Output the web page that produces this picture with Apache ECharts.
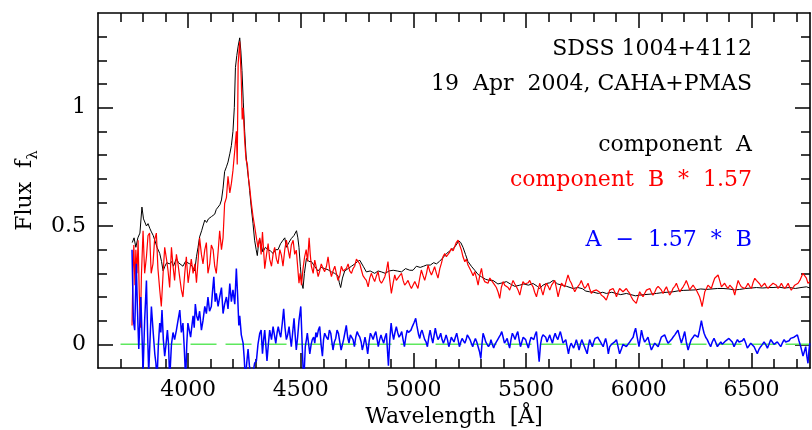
<!DOCTYPE html>
<html>
<head>
<meta charset="utf-8">
<script src="https://cdn.jsdelivr.net/npm/echarts@6/dist/echarts.min.js"></script>
<style>
  html, body { margin: 0; padding: 0; background: #fff; }
  #chart { width: 812px; height: 430px; }
</style>
</head>
<body>
<div id="chart"></div>
<script>
// component A  [wavelength, flux]
var compA = [
  [3752,0.43],[3760,0.45],[3768,0.41],[3777,0.45],[3786,0.47],[3795,0.58],[3802,0.53],[3808,0.525],[3815,0.50],[3822,0.51],
  [3830,0.49],[3837,0.475],[3845,0.46],[3852,0.44],[3862,0.41],[3874,0.384],[3882,0.35],[3889,0.31],[3897,0.33],[3905,0.345],
  [3918,0.34],[3927,0.35],[3935,0.33],[3948,0.363],[3957,0.345],[3965,0.35],[3977,0.33],[3988,0.35],[3996,0.345],[4007,0.34],
  [4018,0.33],[4029,0.31],[4037,0.37],[4044,0.41],[4051,0.454],[4060,0.48],[4066,0.50],[4074,0.525],[4082,0.515],[4090,0.53],
  [4096,0.525],[4104,0.54],[4112,0.545],[4118,0.55],[4125,0.57],[4133,0.565],[4141,0.59],[4148,0.61],[4155,0.66],[4162,0.73],
  [4170,0.75],[4177,0.77],[4185,0.805],[4192,0.84],[4199,0.90],[4205,1.00],[4210,1.17],[4216,1.22],[4222,1.26],[4229,1.295],
  [4234,1.24],[4239,1.157],[4245,1.02],[4251,0.90],[4257,0.80],[4263,0.74],[4268,0.70],[4273,0.65],[4280,0.58],[4288,0.51],
  [4295,0.44],[4302,0.40],[4307,0.375],[4312,0.42],[4317,0.447],[4324,0.42],[4332,0.39],[4343,0.41],[4354,0.40],[4365,0.395],
  [4377,0.384],[4388,0.40],[4399,0.40],[4410,0.425],[4421,0.44],[4429,0.45],[4436,0.41],[4447,0.43],[4458,0.447],[4470,0.46],
  [4481,0.48],[4487,0.45],[4492,0.41],[4498,0.33],[4504,0.26],[4510,0.236],[4516,0.30],[4525,0.363],[4536,0.35],[4547,0.35],
  [4561,0.33],[4576,0.31],[4591,0.325],[4606,0.32],[4621,0.315],[4636,0.306],[4650,0.30],[4665,0.29],[4671,0.26],[4677,0.24],
  [4685,0.28],[4695,0.31],[4710,0.32],[4725,0.33],[4740,0.34],[4752,0.35],[4762,0.355],[4769,0.363],[4777,0.33],[4791,0.306],
  [4808,0.31],[4828,0.30],[4843,0.31],[4858,0.306],[4875,0.30],[4892,0.31],[4910,0.313],[4928,0.31],[4947,0.306],[4965,0.32],
  [4984,0.313],[4998,0.313],[5013,0.33],[5030,0.325],[5045,0.33],[5058,0.335],[5075,0.335],[5090,0.345],[5102,0.34],[5115,0.35],
  [5130,0.365],[5147,0.384],[5162,0.395],[5177,0.405],[5190,0.42],[5201,0.437],[5210,0.43],[5220,0.41],[5231,0.38],[5242,0.35],
  [5257,0.33],[5272,0.313],[5287,0.295],[5302,0.285],[5320,0.275],[5337,0.27],[5353,0.27],[5375,0.255],[5395,0.26],[5413,0.265],
  [5430,0.255],[5450,0.245],[5472,0.25],[5490,0.255],[5510,0.25],[5531,0.257],[5550,0.245],[5560,0.236],[5575,0.25],[5590,0.257],
  [5605,0.26],[5620,0.27],[5640,0.255],[5660,0.25],[5680,0.245],[5708,0.236],[5730,0.24],[5750,0.235],[5765,0.225],[5782,0.222],
  [5800,0.22],[5820,0.215],[5840,0.22],[5856,0.215],[5880,0.22],[5900,0.215],[5920,0.21],[5945,0.215],[5965,0.21],[5985,0.205],
  [6004,0.208],[6025,0.21],[6050,0.212],[6078,0.215],[6100,0.218],[6125,0.22],[6152,0.222],[6175,0.226],[6200,0.228],[6226,0.229],
  [6250,0.23],[6275,0.234],[6300,0.232],[6325,0.234],[6350,0.236],[6374,0.236],[6400,0.234],[6425,0.23],[6448,0.232],[6475,0.236],
  [6500,0.238],[6522,0.24],[6550,0.238],[6575,0.24],[6596,0.24],[6620,0.242],[6645,0.238],[6670,0.24],[6695,0.236],[6720,0.24],
  [6744,0.243],[6760,0.238]
];

// component B * 1.57
var compB = [
  [3751,0.08],[3755,0.30],[3759,0.42],[3764,0.25],[3768,0.40],[3773,0.30],[3778,0.44],[3783,0.22],[3788,0.07],[3793,0.30],
  [3800,0.48],[3807,0.30],[3815,0.37],[3822,0.46],[3829,0.47],[3836,0.30],[3844,0.34],[3851,0.44],[3859,0.47],[3866,0.32],
  [3874,0.23],[3881,0.16],[3889,0.30],[3896,0.41],[3904,0.36],[3911,0.31],[3918,0.24],[3926,0.41],[3933,0.33],[3940,0.27],
  [3948,0.38],[3955,0.34],[3963,0.28],[3970,0.23],[3977,0.20],[3985,0.30],[3992,0.37],[4000,0.26],[4007,0.31],[4014,0.36],
  [4022,0.30],[4030,0.34],[4037,0.26],[4044,0.35],[4051,0.45],[4059,0.38],[4066,0.34],[4074,0.40],[4081,0.43],[4088,0.30],
  [4096,0.34],[4103,0.42],[4111,0.40],[4118,0.33],[4125,0.30],[4133,0.39],[4140,0.48],[4148,0.40],[4155,0.45],[4162,0.595],
  [4170,0.62],[4177,0.71],[4185,0.64],[4192,0.68],[4199,0.735],[4207,0.82],[4214,0.90],[4218,0.76],[4222,1.185],[4229,1.28],
  [4236,1.115],[4240,0.95],[4244,1.00],[4251,0.86],[4257,0.78],[4263,0.76],[4268,0.70],[4273,0.665],[4280,0.60],[4288,0.54],
  [4295,0.50],[4303,0.45],[4310,0.41],[4318,0.45],[4324,0.38],[4330,0.475],[4340,0.32],[4348,0.38],[4355,0.426],[4362,0.36],
  [4370,0.33],[4377,0.38],[4384,0.41],[4392,0.36],[4399,0.34],[4407,0.40],[4414,0.377],[4421,0.33],[4429,0.40],[4436,0.44],
  [4444,0.40],[4451,0.363],[4458,0.42],[4466,0.44],[4473,0.38],[4480,0.398],[4486,0.33],[4492,0.258],[4497,0.30],[4503,0.25],
  [4510,0.32],[4517,0.37],[4524,0.40],[4530,0.35],[4537,0.45],[4542,0.38],[4547,0.33],[4555,0.30],[4562,0.356],[4570,0.32],
  [4577,0.286],[4584,0.31],[4591,0.34],[4599,0.32],[4606,0.307],[4614,0.33],[4621,0.37],[4628,0.32],[4636,0.286],[4643,0.31],
  [4651,0.33],[4658,0.30],[4665,0.27],[4673,0.29],[4680,0.33],[4688,0.31],[4695,0.307],[4702,0.32],[4710,0.34],[4717,0.31],
  [4725,0.30],[4732,0.32],[4739,0.33],[4747,0.36],[4754,0.35],[4762,0.34],[4769,0.314],[4776,0.29],[4784,0.279],[4791,0.27],
  [4799,0.243],[4806,0.28],[4813,0.30],[4821,0.28],[4828,0.265],[4836,0.29],[4843,0.307],[4850,0.27],[4858,0.258],[4865,0.27],
  [4873,0.286],[4880,0.31],[4887,0.35],[4895,0.27],[4902,0.215],[4910,0.26],[4917,0.293],[4924,0.27],[4932,0.265],[4939,0.29],
  [4947,0.30],[4954,0.27],[4961,0.25],[4969,0.26],[4976,0.27],[4984,0.25],[4991,0.236],[4998,0.25],[5006,0.265],[5013,0.27],
  [5020,0.236],[5028,0.28],[5035,0.314],[5043,0.29],[5050,0.27],[5058,0.30],[5065,0.335],[5072,0.31],[5080,0.293],[5087,0.31],
  [5094,0.328],[5102,0.30],[5109,0.28],[5117,0.32],[5124,0.342],[5131,0.37],[5139,0.384],[5146,0.37],[5154,0.377],[5161,0.39],
  [5168,0.405],[5176,0.395],[5183,0.412],[5190,0.43],[5198,0.44],[5205,0.42],[5213,0.398],[5220,0.37],[5228,0.349],[5235,0.36],
  [5242,0.335],[5250,0.32],[5257,0.307],[5265,0.29],[5272,0.307],[5280,0.28],[5287,0.25],[5294,0.29],[5302,0.321],[5309,0.28],
  [5316,0.265],[5324,0.27],[5331,0.258],[5339,0.28],[5346,0.27],[5354,0.26],[5361,0.25],[5368,0.24],[5376,0.22],[5383,0.194],
  [5390,0.24],[5398,0.265],[5405,0.25],[5413,0.258],[5420,0.24],[5427,0.229],[5435,0.25],[5442,0.27],[5450,0.255],[5457,0.243],
  [5464,0.23],[5472,0.208],[5479,0.24],[5486,0.265],[5494,0.255],[5501,0.25],[5509,0.26],[5516,0.27],[5523,0.255],[5531,0.243],
  [5538,0.22],[5546,0.201],[5553,0.23],[5561,0.258],[5568,0.23],[5575,0.208],[5583,0.24],[5590,0.258],[5598,0.245],[5605,0.229],
  [5613,0.25],[5620,0.26],[5627,0.27],[5634,0.24],[5642,0.201],[5649,0.23],[5657,0.258],[5664,0.25],[5671,0.243],[5679,0.27],
  [5686,0.293],[5694,0.27],[5701,0.258],[5708,0.24],[5716,0.222],[5723,0.235],[5731,0.243],[5738,0.255],[5745,0.27],[5753,0.25],
  [5760,0.236],[5768,0.245],[5775,0.258],[5782,0.235],[5790,0.215],[5797,0.225],[5805,0.222],[5812,0.23],[5819,0.236],[5827,0.22],
  [5834,0.208],[5845,0.20],[5856,0.187],[5866,0.215],[5871,0.229],[5879,0.236],[5886,0.236],[5894,0.22],[5901,0.201],[5908,0.22],
  [5915,0.236],[5923,0.23],[5930,0.222],[5938,0.23],[5945,0.236],[5952,0.225],[5960,0.215],[5967,0.20],[5975,0.187],[5982,0.18],
  [5989,0.173],[5997,0.20],[6004,0.222],[6012,0.21],[6019,0.201],[6026,0.215],[6034,0.229],[6041,0.232],[6049,0.236],[6056,0.22],
  [6063,0.208],[6071,0.22],[6078,0.236],[6086,0.245],[6093,0.25],[6100,0.23],[6108,0.215],[6115,0.23],[6123,0.243],[6130,0.225],
  [6137,0.208],[6145,0.22],[6152,0.236],[6160,0.245],[6167,0.258],[6174,0.24],[6182,0.222],[6189,0.232],[6197,0.243],[6204,0.255],
  [6211,0.27],[6219,0.25],[6226,0.229],[6233,0.24],[6241,0.25],[6248,0.24],[6256,0.229],[6263,0.215],[6270,0.201],[6276,0.18],
  [6281,0.159],[6287,0.19],[6293,0.222],[6300,0.235],[6307,0.25],[6315,0.245],[6322,0.236],[6330,0.26],[6337,0.279],[6344,0.285],
  [6352,0.293],[6359,0.27],[6367,0.243],[6374,0.25],[6381,0.258],[6389,0.245],[6396,0.236],[6404,0.25],[6411,0.258],[6418,0.235],
  [6426,0.208],[6433,0.24],[6441,0.27],[6448,0.255],[6455,0.243],[6463,0.24],[6470,0.236],[6478,0.245],[6485,0.258],[6492,0.245],
  [6500,0.236],[6507,0.26],[6515,0.279],[6522,0.27],[6529,0.265],[6537,0.255],[6544,0.243],[6552,0.25],[6559,0.258],[6566,0.245],
  [6574,0.236],[6581,0.245],[6589,0.25],[6596,0.258],[6603,0.265],[6611,0.25],[6618,0.236],[6626,0.245],[6633,0.258],[6640,0.245],
  [6648,0.236],[6655,0.245],[6663,0.258],[6670,0.24],[6677,0.229],[6685,0.24],[6692,0.25],[6700,0.255],[6707,0.258],[6715,0.27],
  [6722,0.286],[6729,0.30],[6737,0.307],[6744,0.28],[6751,0.258],[6759,0.265]
];

// A - 1.57 * B
var diffAB = [
  [3751,0.40],[3757,0.10],[3763,0.06],[3770,0.34],[3775,0.15],[3781,-0.02],[3786,0.10],[3790,0.20],[3795,0.05],[3800,-0.12],
  [3807,0.10],[3815,0.27],[3820,0.05],[3825,-0.12],[3831,0.02],[3837,0.16],[3845,0.05],[3852,-0.04],[3857,-0.08],[3862,-0.15],
  [3868,0.0],[3874,0.09],[3879,0.05],[3884,0.145],[3890,0.02],[3896,-0.05],[3902,0.0],[3908,0.06],[3913,0.0],[3918,-0.15],
  [3926,0.0],[3933,0.05],[3940,0.02],[3948,0.06],[3955,0.10],[3963,0.145],[3970,0.05],[3977,0.09],[3983,-0.02],[3989,-0.15],
  [3994,0.0],[3999,0.09],[4005,0.06],[4011,0.03],[4017,0.08],[4022,0.12],[4027,0.07],[4032,0.17],[4038,0.12],[4044,0.10],
  [4051,0.14],[4059,0.06],[4066,0.10],[4074,0.16],[4081,0.13],[4088,0.20],[4095,0.14],[4103,0.16],[4108,0.22],[4114,0.285],
  [4120,0.18],[4125,0.215],[4133,0.16],[4140,0.20],[4148,0.24],[4155,0.13],[4162,0.17],[4170,0.20],[4177,0.15],[4185,0.257],
  [4192,0.18],[4199,0.23],[4207,0.17],[4214,0.32],[4220,0.20],[4225,0.08],[4229,0.12],[4236,0.04],[4244,0.005],[4249,-0.06],
  [4254,-0.15],[4260,-0.08],[4266,-0.02],[4272,-0.09],[4281,-0.15],[4288,-0.12],[4295,-0.08],[4303,-0.07],[4310,0.0],[4318,0.047],
  [4324,0.06],[4330,-0.04],[4335,0.02],[4340,0.06],[4350,-0.07],[4356,0.0],[4362,0.06],[4370,0.02],[4377,0.075],[4383,0.04],
  [4389,0.004],[4395,0.05],[4400,0.075],[4405,0.05],[4411,0.03],[4418,0.09],[4424,0.15],[4430,0.07],[4436,0.02],[4442,0.04],
  [4448,0.075],[4453,0.03],[4458,-0.01],[4464,0.05],[4470,0.11],[4475,0.04],[4480,-0.024],[4486,0.03],[4492,0.10],[4496,0.13],
  [4500,0.16],[4505,0.03],[4510,-0.10],[4515,-0.12],[4520,-0.01],[4525,0.02],[4529,0.047],[4535,0.0],[4540,-0.04],[4546,0.0],
  [4551,0.02],[4557,0.03],[4562,0.005],[4567,0.05],[4572,0.03],[4578,0.06],[4584,0.075],[4590,0.0],[4596,-0.05],[4601,0.02],
  [4606,0.047],[4614,0.03],[4621,0.02],[4627,0.06],[4633,0.047],[4638,0.01],[4643,-0.024],[4649,0.01],[4655,0.025],[4661,0.06],
  [4667,0.047],[4673,0.01],[4679,-0.024],[4685,0.0],[4690,0.02],[4696,0.05],[4702,0.08],[4708,0.03],[4714,0.005],[4720,0.04],
  [4726,0.047],[4732,0.02],[4738,-0.01],[4744,0.03],[4750,0.054],[4756,0.04],[4762,0.03],[4768,0.01],[4773,-0.024],[4779,0.0],
  [4785,0.03],[4791,0.0],[4797,-0.04],[4803,0.01],[4809,0.047],[4815,0.035],[4821,0.02],[4827,0.04],[4833,0.054],[4839,0.02],
  [4844,-0.01],[4850,0.02],[4856,0.04],[4862,0.02],[4868,0.005],[4874,0.03],[4880,0.047],[4885,-0.03],[4889,-0.09],[4895,0.02],
  [4901,0.09],[4906,0.05],[4912,0.02],[4918,0.05],[4924,0.075],[4930,0.05],[4936,0.03],[4942,0.04],[4948,0.054],[4954,0.02],
  [4960,-0.01],[4966,0.03],[4972,0.06],[4978,0.05],[4983,0.047],[4989,0.06],[4995,0.075],[5002,0.09],[5006,0.10],[5010,0.11],
  [5015,0.08],[5018,0.075],[5023,0.04],[5028,0.025],[5033,0.05],[5038,0.06],[5044,0.04],[5050,0.02],[5056,0.01],[5062,-0.01],
  [5068,0.03],[5074,0.06],[5080,0.03],[5086,0.005],[5092,0.04],[5097,0.068],[5103,0.04],[5109,0.02],[5115,0.03],[5121,0.047],
  [5127,0.02],[5133,0.005],[5139,0.02],[5145,0.04],[5151,0.02],[5157,-0.01],[5163,0.01],[5168,0.03],[5174,0.02],[5180,0.01],
  [5186,0.03],[5192,0.047],[5198,0.02],[5204,-0.01],[5210,0.01],[5216,0.025],[5222,0.015],[5228,0.005],[5234,0.02],[5239,0.04],
  [5245,0.03],[5251,0.02],[5257,0.005],[5263,-0.01],[5269,0.01],[5275,0.025],[5281,0.01],[5287,-0.01],[5293,-0.03],[5299,-0.06],
  [5304,0.0],[5309,0.047],[5315,0.03],[5321,0.01],[5327,0.0],[5333,-0.01],[5339,0.0],[5344,0.02],[5350,0.0],[5356,-0.016],
  [5362,0.0],[5368,0.01],[5374,0.02],[5380,0.03],[5386,0.04],[5392,0.054],[5398,0.03],[5404,0.005],[5410,0.015],[5416,0.025],
  [5422,0.0],[5427,-0.016],[5433,0.02],[5439,0.047],[5445,0.035],[5451,0.02],[5457,0.04],[5463,0.054],[5469,0.02],[5475,-0.01],
  [5481,0.01],[5487,0.03],[5492,0.025],[5498,0.02],[5504,0.0],[5510,-0.016],[5516,0.01],[5522,0.03],[5528,0.025],[5534,0.02],
  [5540,0.04],[5546,0.054],[5552,-0.01],[5558,-0.073],[5564,0.0],[5570,0.03],[5575,0.04],[5581,0.047],[5587,0.03],[5593,0.01],
  [5599,0.025],[5605,0.04],[5611,0.02],[5617,0.005],[5623,0.03],[5629,0.047],[5635,0.03],[5641,0.02],[5647,0.04],[5652,0.054],
  [5658,0.03],[5664,0.005],[5670,0.01],[5676,0.02],[5682,-0.01],[5688,-0.04],[5694,-0.01],[5700,0.005],[5706,0.0],[5711,-0.016],
  [5717,0.0],[5723,0.02],[5729,0.0],[5735,-0.024],[5741,0.0],[5747,0.02],[5753,0.005],[5759,-0.01],[5765,-0.025],[5771,-0.04],
  [5776,-0.01],[5782,0.02],[5788,0.005],[5794,-0.01],[5800,0.01],[5806,0.025],[5812,0.03],[5818,0.03],[5824,0.02],[5830,0.01],
  [5836,0.0],[5842,-0.01],[5848,0.01],[5853,0.025],[5859,0.0],[5865,-0.04],[5871,-0.01],[5879,0.0],[5886,0.005],[5893,0.01],
  [5901,0.02],[5908,-0.01],[5915,-0.04],[5923,-0.02],[5930,0.0],[5938,0.005],[5945,-0.01],[5952,0.0],[5960,0.01],[5967,0.02],
  [5975,0.03],[5980,0.05],[5986,0.068],[5993,0.03],[6001,-0.01],[6006,0.02],[6012,0.06],[6019,0.03],[6026,0.01],[6034,0.02],
  [6041,0.03],[6049,0.0],[6056,-0.024],[6063,-0.01],[6071,0.005],[6078,0.0],[6086,-0.01],[6093,0.01],[6100,0.03],[6108,0.035],
  [6115,0.04],[6123,0.02],[6130,0.005],[6137,0.01],[6145,0.02],[6152,0.03],[6160,0.04],[6167,0.05],[6174,0.06],[6182,0.03],
  [6189,0.005],[6197,0.03],[6204,0.054],[6211,0.01],[6219,-0.024],[6226,0.0],[6233,0.02],[6241,0.03],[6248,0.04],[6256,0.035],
  [6263,0.03],[6270,0.06],[6278,0.10],[6284,0.07],[6290,0.047],[6297,0.03],[6304,0.02],[6311,0.005],[6319,-0.01],[6326,0.01],
  [6334,0.025],[6341,0.01],[6349,-0.01],[6356,0.0],[6364,0.01],[6371,0.0],[6378,0.005],[6386,0.015],[6393,0.02],[6400,0.025],
  [6408,0.03],[6415,0.01],[6423,-0.01],[6430,0.005],[6438,0.02],[6445,0.01],[6452,0.005],[6460,0.015],[6467,0.025],[6475,0.005],
  [6482,-0.016],[6490,-0.005],[6497,0.005],[6504,0.0],[6512,-0.01],[6519,-0.025],[6526,-0.04],[6534,-0.02],[6541,-0.01],[6549,0.0],
  [6556,0.01],[6563,0.0],[6571,-0.016],[6578,0.0],[6586,0.02],[6593,0.01],[6600,0.0],[6608,0.005],[6615,0.01],[6623,0.0],
  [6630,-0.01],[6637,0.005],[6645,0.02],[6652,0.01],[6660,0.005],[6667,0.015],[6674,0.025],[6682,0.028],[6689,0.03],[6696,0.035],
  [6704,0.04],[6711,0.015],[6719,-0.01],[6724,-0.03],[6729,-0.05],[6735,-0.03],[6741,-0.01],[6746,-0.05],[6751,-0.08],[6755,-0.03],
  [6759,0.005]
];

// zero level
var zeroLine = [[3700,0],[6760,0]];

var xMajorTicks = [4000, 4500, 5000, 5500, 6000, 6500];
var xMinorTicks = [3700, 3800, 3900, 4100, 4200, 4300, 4400, 4600, 4700, 4800, 4900, 5100, 5200, 5300, 5400,
  5600, 5700, 5800, 5900, 6100, 6200, 6300, 6400, 6600, 6700];
var yMajorTicks = [0, 0.5, 1];
var yMinorTicks = [0.1, 0.2, 0.3, 0.4, 0.6, 0.7, 0.8, 0.9, 1.1, 1.2, 1.3];

var FONT = 'DejaVu Serif';
var chart = echarts.init(document.getElementById('chart'), null, {renderer: 'canvas'});

var gridBox = {left: 98, right: 2, top: 13, bottom: 62, containLabel: false, outerBoundsMode: 'none'};
var tickStyle = {color: '#000', width: 1.5};

// grid 0: frame, major ticks, labels, data;  grid 1 (same box): minor ticks only
function xAx(grid, pos, ticks, len, labels, extra) {
  var a = {
    type: 'value', gridIndex: grid, position: pos, min: 3600, max: 6760,
    axisLine: {show: grid === 0, onZero: false, lineStyle: {color: '#000', width: 1.6}},
    splitLine: {show: false},
    axisTick: {show: true, inside: true, length: len, customValues: ticks, lineStyle: tickStyle},
    axisLabel: labels ? {show: true, customValues: ticks, margin: 11, color: '#000', fontFamily: FONT, fontSize: 22,
                         formatter: function (v) { return String(v); }}
                      : {show: false}
  };
  return Object.assign(a, extra || {});
}
function yAx(grid, pos, ticks, len, labels, extra) {
  var a = {
    type: 'value', gridIndex: grid, position: pos, min: -0.1, max: 1.4,
    axisLine: {show: grid === 0, onZero: false, lineStyle: {color: '#000', width: 1.6}},
    splitLine: {show: false},
    axisTick: {show: true, inside: true, length: len, customValues: ticks, lineStyle: tickStyle},
    axisLabel: labels ? {show: true, customValues: ticks, margin: 12, color: '#000', fontFamily: FONT, fontSize: 22,
                         formatter: function (v) { return String(v); }}
                      : {show: false}
  };
  return Object.assign(a, extra || {});
}

var option = {
  animation: false,
  backgroundColor: '#fff',
  grid: [Object.assign({}, gridBox), Object.assign({}, gridBox)],
  xAxis: [
    xAx(0, 'bottom', xMajorTicks, 15, true, {
      name: 'Wavelength  [Å]', nameLocation: 'middle', nameGap: 35,
      nameTextStyle: {color: '#000', fontFamily: FONT, fontSize: 22}
    }),
    xAx(0, 'top', xMajorTicks, 15, false),
    xAx(1, 'bottom', xMinorTicks, 9, false),
    xAx(1, 'top', xMinorTicks, 9, false)
  ],
  yAxis: [
    yAx(0, 'left', yMajorTicks, 15, true, {
      name: 'Flux  f{sub|λ}', nameLocation: 'middle', nameGap: 68, nameRotate: 90,
      nameTextStyle: {
        color: '#000', fontFamily: FONT, fontSize: 22, lineHeight: 30, verticalAlign: 'top',
        rich: {sub: {fontFamily: FONT, fontSize: 15, lineHeight: 15, verticalAlign: 'bottom', color: '#000'}}
      }
    }),
    yAx(0, 'right', yMajorTicks, 15, false),
    yAx(1, 'left', yMinorTicks, 9, false),
    yAx(1, 'right', yMinorTicks, 9, false)
  ],
  series: [
    {type: 'line', name: 'component A', data: compA, xAxisIndex: 0, yAxisIndex: 0,
     showSymbol: false, symbol: 'none', clip: true, lineStyle: {color: '#000', width: 1}, z: 2},
    {type: 'line', name: 'component B * 1.57', data: compB, xAxisIndex: 0, yAxisIndex: 0,
     showSymbol: false, symbol: 'none', clip: true, lineStyle: {color: '#ff0000', width: 1.2}, z: 3},
    {type: 'line', name: 'zero', data: zeroLine, xAxisIndex: 0, yAxisIndex: 0,
     showSymbol: false, symbol: 'none', clip: true, lineStyle: {color: '#5ee85e', width: 1.5, type: [26, 9]}, z: 4},
    {type: 'line', name: 'A - 1.57 * B', data: diffAB, xAxisIndex: 0, yAxisIndex: 0,
     showSymbol: false, symbol: 'none', clip: true, lineStyle: {color: '#0000ff', width: 1.5}, z: 5}
  ],
  graphic: [
    {type: 'text', x: 752, y: 49, style: {text: 'SDSS 1004+4112', align: 'right', verticalAlign: 'middle', fill: '#000', fontFamily: FONT, fontSize: 22}},
    {type: 'text', x: 752, y: 84, style: {text: '19  Apr  2004, CAHA+PMAS', align: 'right', verticalAlign: 'middle', fill: '#000', fontFamily: FONT, fontSize: 22}},
    {type: 'text', x: 752, y: 145, style: {text: 'component  A', align: 'right', verticalAlign: 'middle', fill: '#000', fontFamily: FONT, fontSize: 22}},
    {type: 'text', x: 752, y: 180, style: {text: 'component  B  *  1.57', align: 'right', verticalAlign: 'middle', fill: '#ff0000', fontFamily: FONT, fontSize: 22}},
    {type: 'text', x: 752, y: 240, style: {text: 'A  −  1.57  *  B', align: 'right', verticalAlign: 'middle', fill: '#0000ff', fontFamily: FONT, fontSize: 22}}
  ]
};
chart.setOption(option);
</script>
</body>
</html>
